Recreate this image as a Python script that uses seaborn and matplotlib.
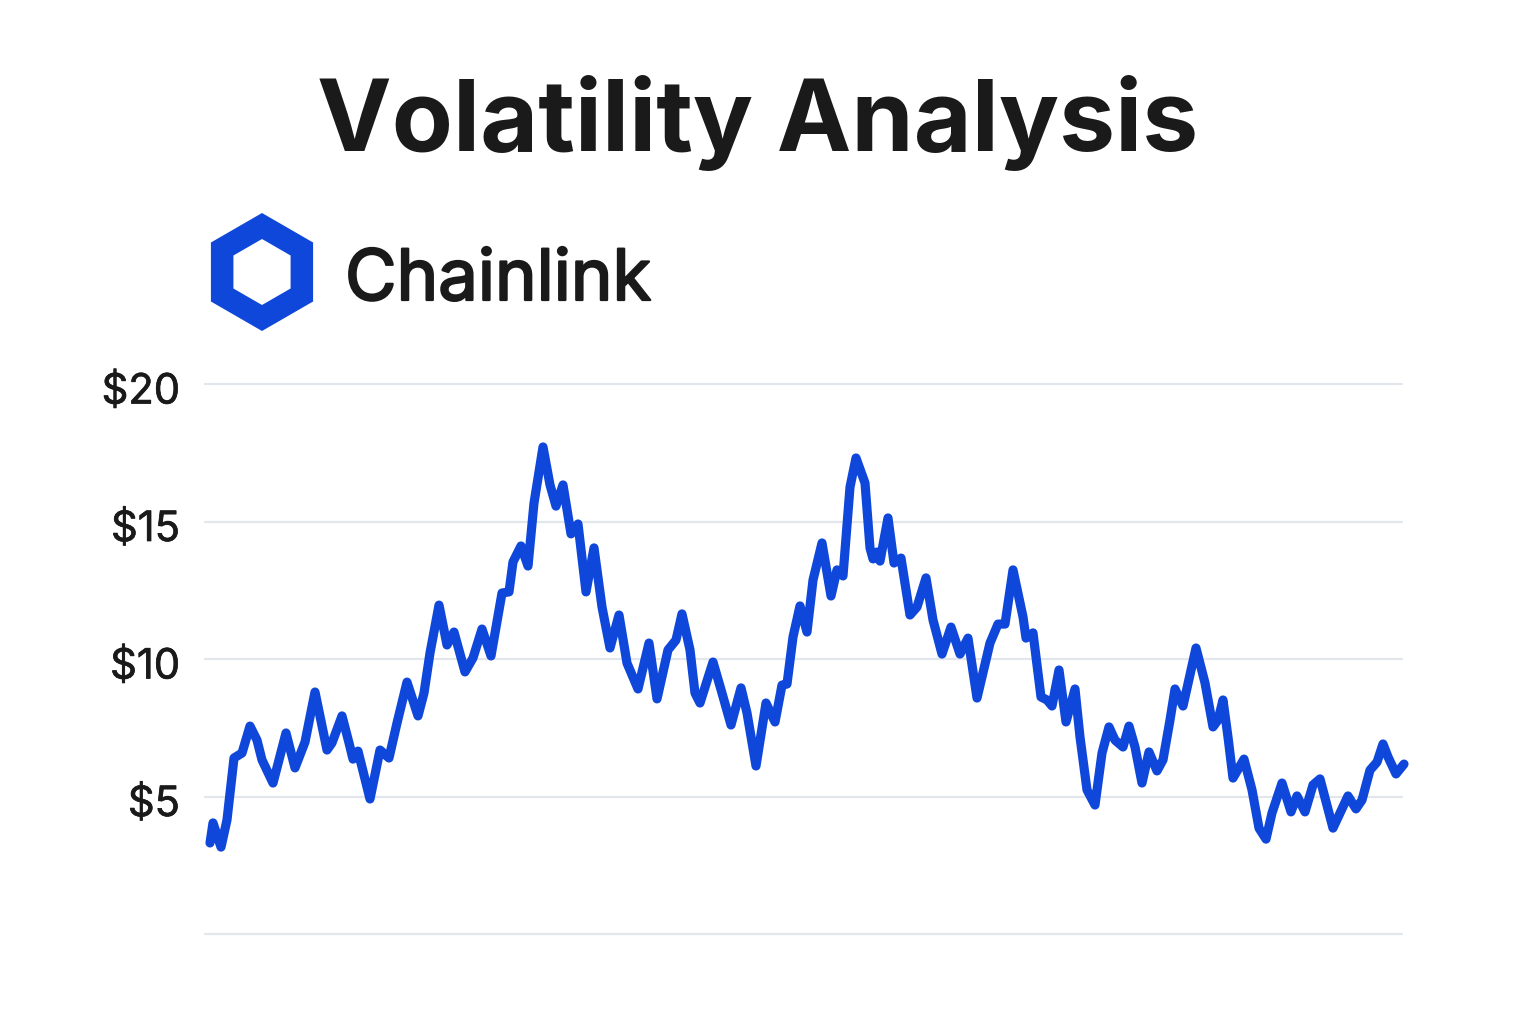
import matplotlib
matplotlib.use("Agg")
import matplotlib.pyplot as plt
import matplotlib.patheffects as pe
import seaborn as sns
import pandas as pd
from matplotlib.patches import RegularPolygon
from matplotlib.transforms import Affine2D, IdentityTransform

TITLE = "Volatility Analysis"
ASSET = "Chainlink"
BLUE = "#0F47DB"
INK = "#1A1A1A"
GRID = "#E3E6EC"

# price axis
price_ticks = [0, 5, 10, 15, 20]
price_labels = ["", "$5", "$10", "$15", "$20"]

# horizontal position along the (unlabelled) time axis
time_pos = [
    5, 8, 16, 22, 29, 37, 45, 52, 57, 68, 81, 90, 100, 110, 122, 127, 137, 144, 148, 153,
    165, 175, 184, 192, 202, 213, 219, 225, 234, 242, 249, 260, 268, 277, 286, 297, 304, 308, 316, 323,
    329, 338, 345, 351, 358, 366, 373, 381, 389, 397, 405, 414, 422, 433, 444, 452, 463, 471, 477, 485,
    490, 495, 508, 517, 526, 536, 542, 551, 561, 570, 577, 582, 588, 595, 602, 608, 617, 626, 632, 638,
    645, 651, 660, 665, 668, 672, 675, 683, 689, 696, 705, 712, 721, 728, 737, 746, 755, 763, 772, 785,
    793, 800, 808, 818, 821, 828, 836, 842, 847, 854, 861, 870, 875, 882, 890, 897, 904, 910, 918, 924,
    930, 937, 944, 952, 958, 965, 970, 978, 991, 1000, 1008, 1013, 1018, 1023, 1028, 1039, 1047, 1054, 1061, 1067,
    1077, 1086, 1092, 1100, 1108, 1115, 1128, 1143, 1151, 1157, 1165, 1172, 1178, 1183, 1191, 1199,
]

price = [
    3.31, 4.04, 3.16, 4.15, 6.40, 6.58, 7.56, 7.05, 6.33, 5.49, 7.31, 6.04, 6.98, 8.80, 6.69, 6.95, 7.93, 6.95, 6.36, 6.65,
    4.91, 6.69, 6.40, 7.67, 9.16, 7.93, 8.76, 10.22, 11.96, 10.51, 10.98, 9.53, 10.04, 11.09, 10.11, 12.40, 12.44, 13.53, 14.11, 13.38,
    15.67, 17.71, 16.33, 15.56, 16.33, 14.55, 14.91, 12.44, 14.04, 11.89, 10.40, 11.60, 9.85, 8.91, 10.58, 8.55, 10.33, 10.69, 11.64, 10.33,
    8.76, 8.40, 9.89, 8.76, 7.60, 8.95, 8.04, 6.11, 8.40, 7.71, 9.05, 9.09, 10.80, 11.93, 10.98, 12.87, 14.22, 12.29, 13.24, 13.02,
    16.25, 17.31, 16.40, 14.04, 13.64, 13.89, 13.56, 15.13, 13.49, 13.67, 11.60, 11.89, 12.95, 11.42, 10.18, 11.16, 10.18, 10.76, 8.58, 10.58,
    11.27, 11.27, 13.24, 11.53, 10.76, 10.95, 8.62, 8.51, 8.29, 9.60, 7.71, 8.91, 7.16, 5.24, 4.69, 6.58, 7.53, 7.05, 6.80, 7.56,
    6.80, 5.49, 6.62, 5.93, 6.33, 7.78, 8.91, 8.29, 10.40, 9.13, 7.53, 7.78, 8.51, 7.16, 5.67, 6.36, 5.24, 3.85, 3.45, 4.40,
    5.49, 4.44, 5.02, 4.44, 5.42, 5.64, 3.85, 5.02, 4.55, 4.87, 5.96, 6.25, 6.91, 6.44, 5.82, 6.18,
]

df = pd.DataFrame({"time": time_pos, "price": price})

sns.set_theme(style="white")
plt.rcParams["font.family"] = ["Inter", "DejaVu Sans"]

fig = plt.figure(figsize=(15.36, 10.24), dpi=100, facecolor="white")
ax = fig.add_axes([205 / 1536, 1 - 934 / 1024, 1197 / 1536, 550 / 1024])

sns.lineplot(data=df, x="time", y="price", color=BLUE, linewidth=6.6, estimator=None,
             ax=ax, clip_on=False, solid_joinstyle="round", solid_capstyle="round", zorder=3)

ax.set_xlim(0, 1197)
ax.set_ylim(0, 20)
ax.set_xticks([])
ax.set_yticks(price_ticks)
ax.set_yticklabels(price_labels, fontsize=30, color=INK)
ax.tick_params(axis="y", length=0, pad=18)
ax.set_xlabel("")
ax.set_ylabel("")
ax.grid(axis="y", color=GRID, linewidth=1.6)
ax.set_axisbelow(True)
sns.despine(ax=ax, left=True, bottom=True, top=True, right=True)

# gridlines sit on the axes limits at both ends, keep them whole
for line in ax.get_ygridlines():
    line.set_clip_on(False)

# tick labels sit a little below their gridline in the original
for lab in ax.get_yticklabels():
    lab.set_transform(lab.get_transform() + Affine2D().translate(0, -4))
    lab.set_path_effects([pe.withStroke(linewidth=0.5, foreground=INK)])

# header text
fig.text(758 / 1536, 1 - 123 / 1024, TITLE, ha="center", va="center", fontsize=72,
         fontweight="bold", color=INK)
chain = fig.text(345 / 1536, 1 - 300 / 1024, ASSET, ha="left", va="baseline", fontsize=50.8,
                 color=INK)
chain.set_path_effects([pe.withStroke(linewidth=1.6, foreground=INK)])

# hexagon logo, in pixels
fig.add_artist(RegularPolygon((262, 1024 - 272), 6, radius=59, facecolor=BLUE, edgecolor="none",
                              transform=IdentityTransform()))
fig.add_artist(RegularPolygon((262, 1024 - 272), 6, radius=33, facecolor="white", edgecolor="none",
                              transform=IdentityTransform()))

fig.savefig("out.png", dpi=100)
